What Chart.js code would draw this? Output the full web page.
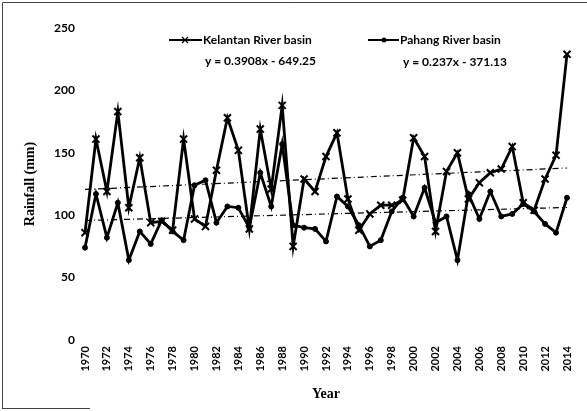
<!DOCTYPE html>
<html>
<head>
<meta charset="utf-8">
<script src="https://cdn.jsdelivr.net/npm/chart.js@4"></script>
<style>
  html, body { margin: 0; padding: 0; background: #fff; }
  #wrap { position: relative; width: 587px; height: 411px; }
</style>
</head>
<body>
<div id="wrap"><canvas id="c" width="587" height="411"></canvas></div>
<script>
const years = [1970,1971,1972,1973,1974,1975,1976,1977,1978,1979,
               1980,1981,1982,1983,1984,1985,1986,1987,1988,1989,
               1990,1991,1992,1993,1994,1995,1996,1997,1998,1999,
               2000,2001,2002,2003,2004,2005,2006,2007,2008,2009,
               2010,2011,2012,2013,2014];
const kelantan = [86,161,119,183,106,146,94,95,88,161,
                  97,91,136,178,152,89,169,121,188,75,
                  129,119,147,166,113,88,101,108,108,112,
                  162,147,87,135,150,113,126,134,137,155,
                  110,104,129,148,229];
const pahang = [74,117,82,110,64,87,77,96,87,80,
                124,128,94,107,106,90,134,107,157,92,
                90,89,79,115,107,92,75,80,103,114,
                99,122,94,99,64,117,97,119,99,101,
                109,103,93,86,114];
const seriesNames = ["Kelantan River basin", "Pahang River basin"];
const trendSlope = [0.3908, 0.237];
const trendIntercept = [-649.25, -371.13];
const trendText = ["y = 0.3908x - 649.25", "y = 0.237x - 371.13"];
const yTicks = [0, 50, 100, 150, 200, 250];

function trendData(i) {
  return years.map((y, k) => (k === 0 || k === years.length - 1) ? trendSlope[i] * y + trendIntercept[i] : null);
}

const legendPlugin = {
  id: 'customLegend',
  afterDraw(chart) {
    const ctx = chart.ctx;
    ctx.save();
    // frame
    ctx.strokeStyle = '#444';
    ctx.lineWidth = 1;
    ctx.beginPath();
    ctx.moveTo(2.5, 409); ctx.lineTo(2.5, 2.5); ctx.lineTo(587, 2.5);
    ctx.moveTo(2.5, 408.5); ctx.lineTo(90, 408.5);
    ctx.stroke();

    ctx.fillStyle = '#000';
    ctx.strokeStyle = '#000';
    ctx.font = 'bold 12px Lato';
    ctx.textBaseline = 'middle';
    ctx.textAlign = 'left';
    // Kelantan
    ctx.lineWidth = 2;
    ctx.beginPath(); ctx.moveTo(169, 40); ctx.lineTo(202, 40); ctx.stroke();
    ctx.lineWidth = 1.2;
    ctx.beginPath();
    ctx.moveTo(182, 37); ctx.lineTo(188, 43);
    ctx.moveTo(188, 37); ctx.lineTo(182, 43);
    ctx.stroke();
    ctx.fillText(seriesNames[0], 203, 40);
    ctx.fillText(trendText[0], 205, 61);
    // Pahang
    ctx.lineWidth = 2;
    ctx.beginPath(); ctx.moveTo(368, 40); ctx.lineTo(399, 40); ctx.stroke();
    ctx.beginPath(); ctx.arc(384, 40, 2.5, 0, Math.PI * 2); ctx.fill();
    ctx.fillText(seriesNames[1], 400, 40);
    ctx.fillText(trendText[1], 403, 62);
    ctx.restore();
  }
};

new Chart(document.getElementById('c'), {
  type: 'line',
  data: {
    labels: years,
    datasets: [
      {
        label: seriesNames[0], data: kelantan,
        borderColor: '#000', backgroundColor: '#000', borderWidth: 2.8,
        pointStyle: 'crossRot', pointRadius: 5, pointBorderWidth: 2,
        tension: 0
      },
      {
        label: seriesNames[1], data: pahang,
        borderColor: '#000', backgroundColor: '#000', borderWidth: 2.8,
        pointStyle: 'circle', pointRadius: 2.5, pointBorderWidth: 1,
        tension: 0
      },
      {
        label: 'trend1', data: trendData(0), spanGaps: true,
        borderColor: '#000', borderWidth: 1.2, borderDash: [6, 3, 1, 3],
        pointRadius: 0
      },
      {
        label: 'trend2', data: trendData(1), spanGaps: true,
        borderColor: '#000', borderWidth: 1.2, borderDash: [6, 3, 1, 3],
        pointRadius: 0
      }
    ]
  },
  options: {
    responsive: false,
    animation: false,
    events: [],
    layout: { padding: { top: 28, right: 20, bottom: 0, left: 0 } },
    plugins: { legend: { display: false }, tooltip: { enabled: false } },
    scales: {
      x: {
        type: 'category',
        offset: false,
        grid: { display: false, drawTicks: false },
        border: { display: false },
        ticks: {
          autoSkip: false, maxRotation: 90, minRotation: 90, padding: 6,
          color: '#000', font: { family: 'Lato', size: 11, weight: 'bold' },
          callback: function(v, i) { const y = years[i]; return (y % 2 === 0) ? String(y) : ''; }
        },
        title: {
          display: true, text: 'Year', color: '#000',
          font: { family: 'Liberation Serif', size: 14, weight: 'bold' },
          padding: { top: 0, bottom: 8 }
        },
        afterFit: function(s) { s.height = 71; }
      },
      y: {
        min: 0, max: 250,
        afterBuildTicks: function(s) { s.ticks = yTicks.map(v => ({ value: v })); },
        grid: { display: false, drawTicks: false },
        border: { display: false },
        ticks: {
          padding: 10, color: '#000',
          font: { family: 'Lato', size: 12, weight: 'bold' }
        },
        title: {
          display: true, text: 'Rainfall (mm)', color: '#000',
          font: { family: 'Liberation Serif', size: 14, weight: 'bold' },
          padding: { top: 22, bottom: 0 }
        },
        afterFit: function(s) { s.width = 85; }
      }
    }
  },
  plugins: [legendPlugin]
});
</script>
</body>
</html>
